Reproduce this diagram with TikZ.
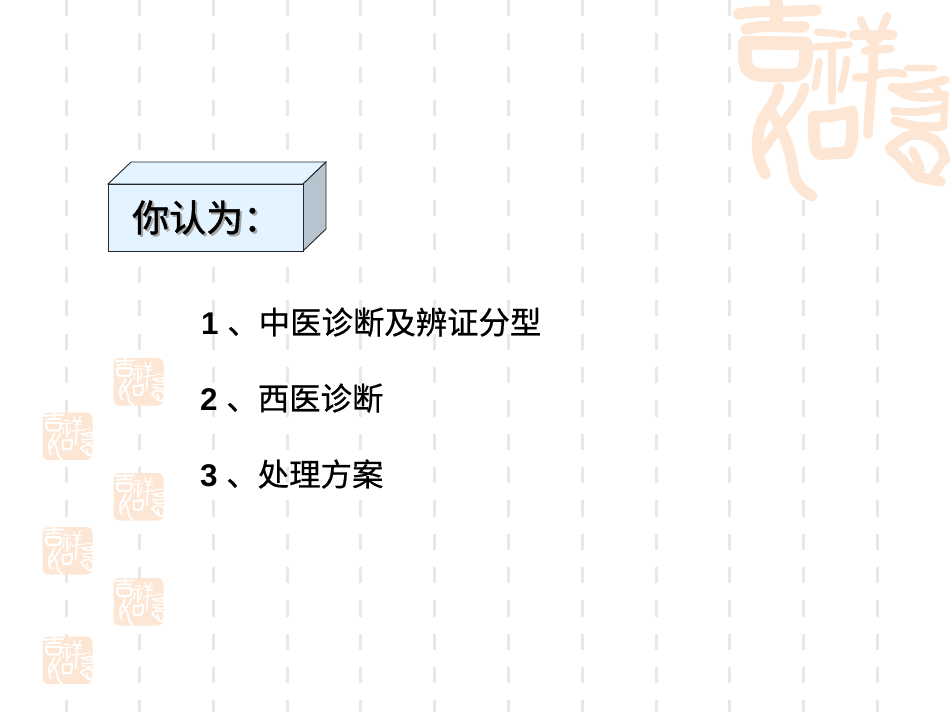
\documentclass[tikz,border=0pt]{standalone}
\usepackage{fontspec}
\setmainfont{Liberation Sans}
\newfontfamily\cjk{Noto Sans CJK SC}[FakeBold=0.6]
\newfontfamily\cjkhead{Noto Sans CJK SC}[FakeBold=1.2]
\definecolor{dashgray}{HTML}{E8E8E8}
\definecolor{peach}{HTML}{FDE6D3}
\definecolor{boxface}{HTML}{E3F3FF}
\definecolor{boxside}{HTML}{B5C4CE}
\definecolor{shadowgray}{HTML}{A6A6A6}
\tikzset{
  guidedash/.style={draw=dashgray,line width=3pt},
  artline/.style={line width=#1*\artk*\artf pt,line cap=round,line join=round},
  boxedge/.style={draw=black!85,line width=0.9pt,line join=miter},
  listtext/.style={anchor=base west,inner sep=0pt,font=\fontsize{31.4}{38}\selectfont},
  headtext/.style={anchor=base west,inner sep=0pt,font=\fontsize{37}{44}\selectfont\cjkhead}
}
% calligraphic mark, in units of the 650x590 artwork
\newcommand\artmark[5]{%
 \def\artk{#4}\def\artf{#5}%
 \begin{scope}[shift={(#2,#3)},x=#4pt,y=-#4pt]
  \tikzset{every path/.append style={draw=#1}}
  % ji
  \draw[artline=14] (25,42) .. controls (100,28) and (180,38) .. (258,30);
  \draw[artline=16] (140,2) -- (140,60);
  \draw[artline=14] (48,88) .. controls (110,70) and (170,85) .. (222,80);
  \draw[artline=17] (45,128) -- (45,180) .. controls (48,215) and (70,226) .. (110,226) -- (190,226) .. controls (225,222) and (232,190) .. (226,130) -- cycle;
  % shi radical
  \draw[artline=9] (262,96) -- (340,104);
  \draw[artline=9] (245,142) -- (358,134);
  \draw[artline=11] (306,150) -- (306,302);
  \draw[artline=9] (268,185) .. controls (262,215) and (260,240) .. (255,262);
  \draw[artline=9] (350,178) .. controls (345,215) and (340,240) .. (332,268);
  % yang radical
  \draw[artline=10] (392,60) -- (420,120);
  \draw[artline=10] (472,48) -- (442,122);
  \draw[artline=12] (372,105) -- (488,105);
  \draw[artline=10] (405,152) -- (482,146);
  \draw[artline=10] (378,232) .. controls (420,240) and (460,205) .. (520,222);
  \draw[artline=12] (432,112) .. controls (432,220) and (418,300) .. (414,402);
  % ru, left part
  \draw[artline=14] (146,265) .. controls (140,310) and (90,350) .. (85,400) .. controls (78,440) and (85,490) .. (106,522);
  \draw[artline=12] (224,262) .. controls (210,320) and (150,370) .. (100,450);
  \draw[artline=14] (125,340) .. controls (165,400) and (185,460) .. (190,520) .. controls (200,560) and (225,575) .. (245,588);
  % kou
  \draw[artline=15] (252,350) .. controls (290,352) and (330,345) .. (365,335) .. controls (368,390) and (370,430) .. (352,458) -- (270,462) .. controls (250,460) and (252,400) .. (252,350) -- cycle;
  % yi
  \draw[artline=8] (532,204) -- (612,205);
  \draw[artline=11] (485,262) .. controls (540,270) and (600,250) .. (645,240);
  \draw[artline=11] (500,268) .. controls (540,300) and (600,295) .. (645,285);
  \draw[artline=10] (492,332) .. controls (540,340) and (600,335) .. (640,322);
  \draw[artline=11] (495,362) .. controls (540,378) and (590,385) .. (640,378);
  \draw[artline=13] (480,445) .. controls (510,420) and (540,395) .. (575,405) .. controls (620,415) and (640,440) .. (645,480);
  \draw[artline=13] (482,450) .. controls (520,475) and (540,510) .. (565,530) -- (632,545);
  \draw[artline=11] (548,452) -- (572,505);
  \draw[artline=11] (640,480) -- (612,525);
  \draw[artline=9] (610,255) -- (645,300) -- (640,370);
 \end{scope}}
% small seal: rounded square with the mark cut out in white
\newcommand\sealmark[3]{%
 \fill[peach,rounded corners=6pt] (#2,#3) rectangle ++(50,47.5);
 \coordinate (#1) at (#2,#3);
 \artmark{white}{#2}{#3}{0.08}{1.7}}
\begin{document}
\begin{tikzpicture}[x=1pt,y=-1pt]
 \useasboundingbox (0,0) rectangle (950,713);
 \fill[white] (0,0) rectangle (950,713);
 % guide dashes
 \begin{scope}
  \clip (0,0) rectangle (950,711.5);
  \foreach \gx in {66.5,139.6,213.3,287,360.6,434.5,508,582,656,729.5,803,877}
   \foreach \gk in {0,...,21}
    \draw[guidedash] (\gx,\gk*33.35) -- (\gx,\gk*33.35+16.3);
 \end{scope}
 % large mark
 \fill[white] (733,0) rectangle (950,197);
 \artmark{peach}{730}{0}{0.3333}{2.4}
 % small seals
 \sealmark{sealA}{113.5}{358}
 \sealmark{sealB}{42.5}{412.5}
 \sealmark{sealC}{113.5}{473}
 \sealmark{sealD}{42.5}{527}
 \sealmark{sealE}{113.5}{578}
 \sealmark{sealF}{42.5}{636.5}
 % 3-D box
 \coordinate (fa) at (108,184); \coordinate (fb) at (303,184);
 \coordinate (fc) at (303,251); \coordinate (fd) at (108,251);
 \coordinate (ba) at (131,162); \coordinate (bb) at (326,162);
 \coordinate (bc) at (326,229);
 \filldraw[boxedge,fill=boxface] (fa) -- (ba) -- (bb) -- (fb) -- cycle;
 \filldraw[boxedge,fill=boxside] (fb) -- (bb) -- (bc) -- (fc) -- cycle;
 \filldraw[boxedge,fill=boxface] (fa) rectangle (fc);
 % heading with shadow
 \node[headtext,text=shadowgray] (headshadow) at (134,233.5) {你认为：};
 \node[headtext,text=black] (head) at (132,231.5) {你认为：};
 % list
 \node[listtext] (itemA) at (201,334) {{\bfseries 1} {\cjk 、中医诊断及辨证分型}};
 \node[listtext] (itemB) at (200,410) {{\bfseries 2} {\cjk 、西医诊断}};
 \node[listtext] (itemC) at (200,486) {{\bfseries 3} {\cjk 、处理方案}};
\end{tikzpicture}
\end{document}
